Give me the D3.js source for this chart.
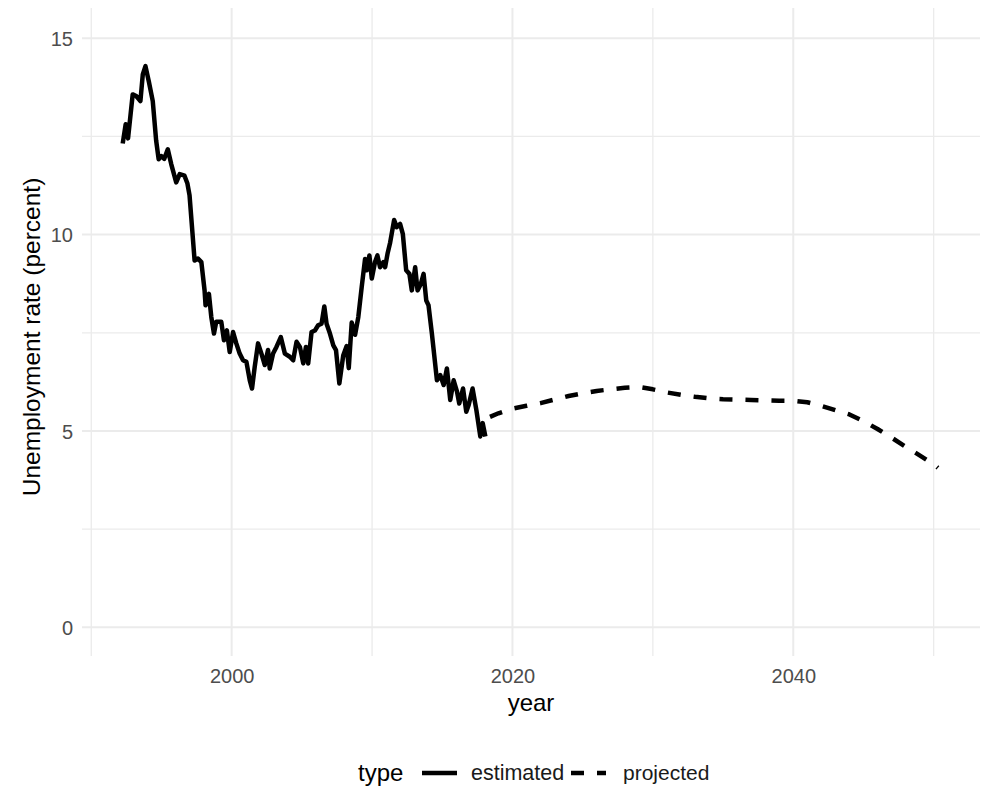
<!DOCTYPE html>
<html>
<head>
<meta charset="utf-8">
<script src="https://cdn.jsdelivr.net/npm/d3@7"></script>
<style>
  html, body { margin: 0; padding: 0; background: #fff; }
  svg { display: block; font-family: "Liberation Sans", Arial, Helvetica, sans-serif; }
</style>
</head>
<body>
<svg id="chart" width="988" height="788"></svg>
<script>
// ---------------- data ----------------
const estYears = [1992.24,1992.45,1992.62,1992.95,1993.2,1993.5,1993.67,1993.86,1994.1,1994.38,1994.62,1994.8,1995.0,1995.2,1995.45,1995.7,1996.05,1996.3,1996.64,1996.85,1997.0,1997.36,1997.6,1997.84,1998.07,1998.14,1998.38,1998.55,1998.74,1998.9,1999.26,1999.45,1999.66,1999.86,2000.1,2000.33,2000.57,2000.81,2001.05,2001.29,2001.45,2001.64,2001.88,2002.12,2002.36,2002.59,2002.71,2002.95,2003.19,2003.5,2003.79,2004.14,2004.38,2004.62,2004.86,2005.1,2005.29,2005.45,2005.69,2005.93,2006.16,2006.4,2006.6,2006.76,2007.0,2007.24,2007.43,2007.67,2007.95,2008.19,2008.34,2008.55,2008.79,2009.02,2009.26,2009.5,2009.62,2009.81,2009.98,2010.21,2010.38,2010.57,2010.81,2010.93,2011.1,2011.29,2011.57,2011.76,2012.0,2012.19,2012.43,2012.66,2012.83,2013.07,2013.24,2013.48,2013.67,2013.86,2014.02,2014.26,2014.62,2014.86,2015.1,2015.33,2015.57,2015.81,2016.05,2016.21,2016.48,2016.71,2016.88,2017.16,2017.43,2017.71,2017.88,2018.07];
const estValues = [12.32,12.81,12.45,13.57,13.53,13.4,14.08,14.29,13.9,13.4,12.4,11.92,12.0,11.93,12.17,11.79,11.33,11.54,11.5,11.3,11.0,9.34,9.39,9.30,8.58,8.2,8.49,7.9,7.48,7.78,7.78,7.31,7.56,7.01,7.52,7.23,6.97,6.8,6.76,6.29,6.08,6.63,7.23,6.97,6.68,7.06,6.59,6.97,7.14,7.39,6.97,6.89,6.8,7.27,7.14,6.72,7.14,6.72,7.52,7.56,7.69,7.73,8.17,7.73,7.48,7.18,7.06,6.21,6.93,7.16,6.6,7.76,7.45,7.9,8.66,9.38,9.09,9.47,8.88,9.3,9.47,9.17,9.3,9.17,9.51,9.8,10.37,10.19,10.27,10.02,9.09,9.0,8.58,9.17,8.58,8.75,9.0,8.32,8.2,7.48,6.29,6.42,6.17,6.59,5.79,6.29,6.0,5.7,6.08,5.49,5.66,6.08,5.53,4.86,5.2,4.86];

const projYears = [2018.4,2019,2020,2021,2022,2023,2024,2025,2026,2027,2028,2029,2030,2031,2032,2033,2034,2035,2036,2037,2038,2039,2040,2041,2042,2043,2044,2045,2046,2047,2048,2049,2050,2050.3];
const projValues = [5.36,5.45,5.57,5.64,5.71,5.80,5.89,5.96,6.02,6.06,6.10,6.12,6.06,5.98,5.92,5.87,5.83,5.81,5.80,5.79,5.78,5.77,5.77,5.73,5.64,5.53,5.42,5.25,5.05,4.83,4.60,4.38,4.15,4.06];

const xMajorTicks = [2000, 2020, 2040];
const xMinorTicks = [1990, 2010, 2030, 2050];
const yMajorTicks = [0, 5, 10, 15];
const yMinorTicks = [2.5, 7.5, 12.5];
const legendTitle = "type";
const seriesNames = ["estimated", "projected"];
const xTitle = "year";
const yTitle = "Unemployment rate (percent)";

// ---------------- layout ----------------
const panel = { left: 82, right: 980, top: 8, bottom: 656 };
const x = d3.scaleLinear().domain([1989.34, 2053.30]).range([panel.left, panel.right]);
const y = d3.scaleLinear().domain([-0.73, 15.77]).range([panel.bottom, panel.top]);

const svg = d3.select("#chart");
const grid = "#EBEBEB";

// minor grid
svg.append("g").selectAll("line").data(xMinorTicks).join("line")
  .attr("x1", d => x(d)).attr("x2", d => x(d))
  .attr("y1", panel.top).attr("y2", panel.bottom)
  .attr("stroke", grid).attr("stroke-width", 1.3);
svg.append("g").selectAll("line").data(yMinorTicks).join("line")
  .attr("y1", d => y(d)).attr("y2", d => y(d))
  .attr("x1", panel.left).attr("x2", panel.right)
  .attr("stroke", grid).attr("stroke-width", 1.3);
// major grid
svg.append("g").selectAll("line").data(xMajorTicks).join("line")
  .attr("x1", d => x(d)).attr("x2", d => x(d))
  .attr("y1", panel.top).attr("y2", panel.bottom)
  .attr("stroke", grid).attr("stroke-width", 2);
svg.append("g").selectAll("line").data(yMajorTicks).join("line")
  .attr("y1", d => y(d)).attr("y2", d => y(d))
  .attr("x1", panel.left).attr("x2", panel.right)
  .attr("stroke", grid).attr("stroke-width", 2);

// axes labels (via d3 axes, without domain/ticks lines)
const xAxis = d3.axisBottom(x).tickValues(xMajorTicks).tickFormat(d3.format("d")).tickSize(0).tickPadding(0);
const gx = svg.append("g").attr("transform", `translate(0,${panel.bottom})`).call(xAxis);
gx.select(".domain").remove();
gx.selectAll("text").attr("fill", "#4D4D4D").attr("font-size", 20)
  .attr("font-family", "'Liberation Sans', Arial, sans-serif")
  .attr("dy", null).attr("y", 27);

const yAxis = d3.axisLeft(y).tickValues(yMajorTicks).tickFormat(d3.format("d")).tickSize(0).tickPadding(0);
const gy = svg.append("g").attr("transform", `translate(73,0)`).call(yAxis);
gy.select(".domain").remove();
gy.selectAll("text").attr("fill", "#4D4D4D").attr("font-size", 20)
  .attr("font-family", "'Liberation Sans', Arial, sans-serif")
  .attr("x", 0).attr("dy", "0.36em");

// titles
svg.append("text").attr("x", (panel.left + panel.right) / 2).attr("y", 711)
  .attr("text-anchor", "middle").attr("font-size", 24).attr("fill", "#000").text(xTitle);
svg.append("text").attr("transform", `translate(40,${(panel.top + panel.bottom) / 2 + 5}) rotate(-90)`)
  .attr("text-anchor", "middle").attr("font-size", 24.5).attr("fill", "#000").text(yTitle);

// lines
const estData = estYears.map((d, i) => [d, estValues[i]]);
const projData = projYears.map((d, i) => [d, projValues[i]]);
const line = d3.line().x(d => x(d[0])).y(d => y(d[1]));

svg.append("path").datum(estData).attr("d", line)
  .attr("fill", "none").attr("stroke", "#000").attr("stroke-width", 4.5)
  .attr("stroke-linejoin", "round").attr("stroke-linecap", "butt");
svg.append("path").datum(projData).attr("d", line)
  .attr("fill", "none").attr("stroke", "#000").attr("stroke-width", 4.5)
  .attr("stroke-linejoin", "round").attr("stroke-linecap", "butt")
  .attr("stroke-dasharray", "13,13");

// legend
const ly = 773;
const lg = svg.append("g");
lg.append("text").attr("x", 358).attr("y", ly + 8).attr("font-size", 24).attr("fill", "#000").text(legendTitle);
lg.append("line").attr("x1", 422).attr("x2", 457).attr("y1", ly).attr("y2", ly)
  .attr("stroke", "#000").attr("stroke-width", 4.5);
lg.append("text").attr("x", 471).attr("y", ly + 7).attr("font-size", 21.5).attr("fill", "#1a1a1a").text(seriesNames[0]);
lg.append("line").attr("x1", 571).attr("x2", 606).attr("y1", ly).attr("y2", ly)
  .attr("stroke", "#000").attr("stroke-width", 4.5).attr("stroke-dasharray", "13,13");
lg.append("text").attr("x", 623).attr("y", ly + 7).attr("font-size", 21).attr("fill", "#1a1a1a").text(seriesNames[1]);
</script>
</body>
</html>
